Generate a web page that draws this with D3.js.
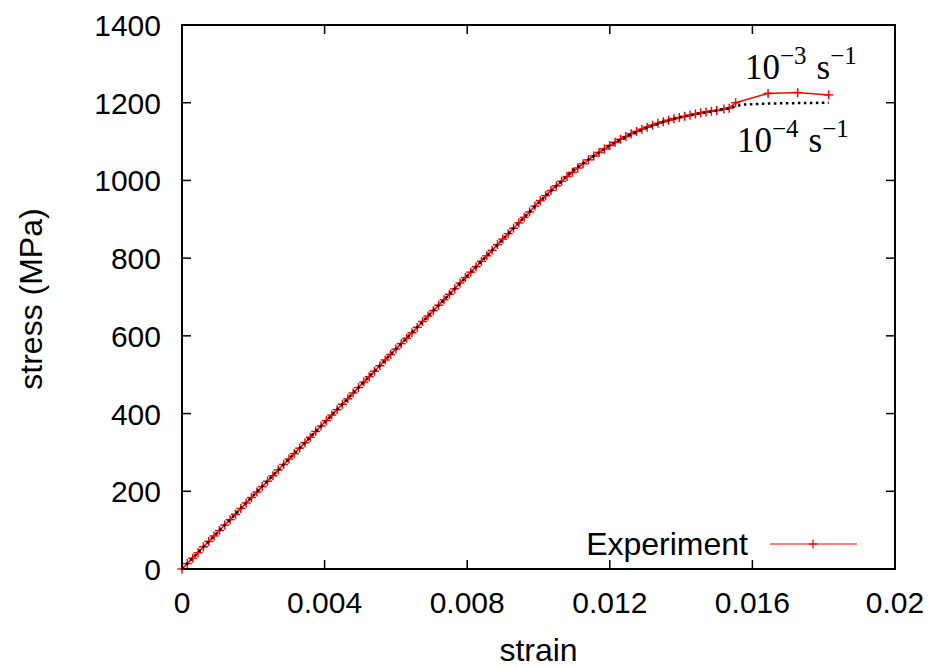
<!DOCTYPE html>
<html><head><meta charset="utf-8">
<script src="https://cdn.jsdelivr.net/npm/d3@7"></script>
<style>body{margin:0;background:#fff}svg{display:block}</style>
</head><body>
<svg id="c" width="937" height="667"></svg>
<script>
// strain (x1e-3) and stress (MPa) of the experiment (red, + markers)
const expStrainMilli = [0,0.15,0.30,0.45,0.60,0.75,0.90,1.05,1.20,1.35,1.50,1.65,1.80,1.95,2.10,2.25,2.40,2.55,2.70,2.85,3.00,3.15,3.30,3.45,3.60,3.75,3.90,4.05,4.20,4.35,4.50,4.65,4.80,4.95,5.10,5.25,5.40,5.55,5.70,5.85,6.00,6.15,6.30,6.45,6.60,6.75,6.90,7.05,7.20,7.35,7.50,7.65,7.80,7.95,8.10,8.25,8.40,8.55,8.70,8.85,9.00,9.15,9.30,9.45,9.60,9.75,9.90,10.05,10.20,10.35,10.50,10.65,10.80,10.95,11.10,11.25,11.40,11.55,11.70,11.85,12.00,12.15,12.30,12.45,12.60,12.75,12.90,13.05,13.20,13.35,13.50,13.65,13.80,13.95,14.10,14.25,14.40,14.55,14.70,14.85,15.00,15.20,15.35,15.53,16.44,17.27,18.14];
const expStress = [0,14,28,42,57,71,85,99,113,127,141,156,170,184,198,212,226,240,255,269,283,297,311,325,339,354,368,382,396,410,424,438,453,467,481,495,509,523,538,552,566,580,594,608,622,637,651,665,679,693,707,721,736,750,764,778,792,806,820,835,849,863,877,891,905,919,934,948,961,974,986,998,1010,1021,1032,1043,1053,1063,1072,1081,1090,1098,1106,1113,1120,1126,1132,1137,1142,1147,1151,1155,1159,1162,1165,1168,1171,1174,1176,1178,1180,1184,1186,1200,1224,1226,1220];
// model curve at 1e-4 s^-1 (black dotted)
const modelStrainMilli = [0,2,4,6,8,10,10.6,11,11.5,12,12.5,13,13.5,14,14.5,15,15.35,15.7,16.5,17.3,18.14];
const modelStress = [0,189,377,566,754,943,994,1028,1060,1090,1115,1135,1151,1163,1172,1180,1186,1195,1198,1199,1200];
const xTicks = [0,0.004,0.008,0.012,0.016,0.02];
const xTickLabels = ["0","0.004","0.008","0.012","0.016","0.02"];
const yTicks = [0,200,400,600,800,1000,1200,1400];

const svg = d3.select("#c");
const L=182, R=895, T=25, B=569;
const x = d3.scaleLinear().domain([0,0.02]).range([L,R]);
const y = d3.scaleLinear().domain([0,1400]).range([B,T]);
const sans = "'Liberation Sans', Arial, Helvetica, sans-serif";
const serif = "'Liberation Serif', 'Times New Roman', serif";

// ticks (inward, mirrored)
const tl = 9;
const g = svg.append("g").attr("stroke","#000").attr("stroke-width",1.5);
xTicks.forEach(v=>{
  g.append("line").attr("x1",x(v)).attr("x2",x(v)).attr("y1",B).attr("y2",B-tl);
  g.append("line").attr("x1",x(v)).attr("x2",x(v)).attr("y1",T).attr("y2",T+tl);
});
yTicks.forEach(v=>{
  g.append("line").attr("x1",L).attr("x2",L+tl).attr("y1",y(v)).attr("y2",y(v));
  g.append("line").attr("x1",R).attr("x2",R-tl).attr("y1",y(v)).attr("y2",y(v));
});
// tick labels
xTicks.forEach((v,i)=>{
  svg.append("text").attr("x",x(v)).attr("y",613).attr("text-anchor","middle")
    .attr("font-family",sans).attr("font-size",30).text(xTickLabels[i]);
});
yTicks.forEach(v=>{
  svg.append("text").attr("x",161).attr("y",y(v)+11).attr("text-anchor","end")
    .attr("font-family",sans).attr("font-size",30).text(v);
});
// axis labels
svg.append("text").attr("x",(L+R)/2).attr("y",661).attr("text-anchor","middle")
  .attr("font-family",sans).attr("font-size",32).text("strain");
svg.append("text").attr("transform","translate(42,299) rotate(-90)").attr("text-anchor","middle")
  .attr("font-family",sans).attr("font-size",32).text("stress (MPa)");

// data
const expData = expStrainMilli.map((s,i)=>[s/1000, expStress[i]]);
const modelData = modelStrainMilli.map((s,i)=>[s/1000, modelStress[i]]);
const line = d3.line().x(d=>x(d[0])).y(d=>y(d[1]));
svg.append("path").datum(expData).attr("d",line).attr("fill","none")
  .attr("stroke","#ff0000").attr("stroke-width",1.5);
const ms = 4.5;
const mk = svg.append("g").attr("stroke","#ff0000").attr("stroke-width",1.5);
expData.forEach(d=>{
  const cx=x(d[0]), cy=y(d[1]);
  mk.append("line").attr("x1",cx-ms).attr("x2",cx+ms).attr("y1",cy).attr("y2",cy);
  mk.append("line").attr("x1",cx).attr("x2",cx).attr("y1",cy-ms).attr("y2",cy+ms);
});
svg.append("path").datum(modelData).attr("d",line).attr("fill","none")
  .attr("stroke","#000").attr("stroke-width",2.5).attr("stroke-dasharray","2.5,3.5");

// border
svg.append("rect").attr("x",L).attr("y",T).attr("width",R-L).attr("height",B-T)
  .attr("fill","none").attr("stroke","#000").attr("stroke-width",2);

// legend
svg.append("text").attr("x",748).attr("y",555).attr("text-anchor","end")
  .attr("font-family",sans).attr("font-size",32).text("Experiment");
svg.append("line").attr("x1",770).attr("x2",857).attr("y1",544).attr("y2",544)
  .attr("stroke","#ff0000").attr("stroke-width",1.2);
svg.append("line").attr("x1",813-ms).attr("x2",813+ms).attr("y1",544).attr("y2",544).attr("stroke","#ff0000").attr("stroke-width",1.2);
svg.append("line").attr("x1",813).attr("x2",813).attr("y1",544-ms).attr("y2",544+ms).attr("stroke","#ff0000").attr("stroke-width",1.2);

// rate annotations
function rate(xp, yp, exp){
  const t = svg.append("text").attr("x",xp).attr("y",yp).attr("font-family",serif).attr("font-size",35);
  t.append("tspan").text("10");
  t.append("tspan").attr("dy",-15).attr("font-size",25).text("\u2212"+exp);
  t.append("tspan").attr("dy",15).attr("dx",10).text("s");
  t.append("tspan").attr("dy",-15).attr("font-size",25).text("\u22121");
}
rate(745,79,"3");
rate(737,152,"4");
</script>
</body></html>
